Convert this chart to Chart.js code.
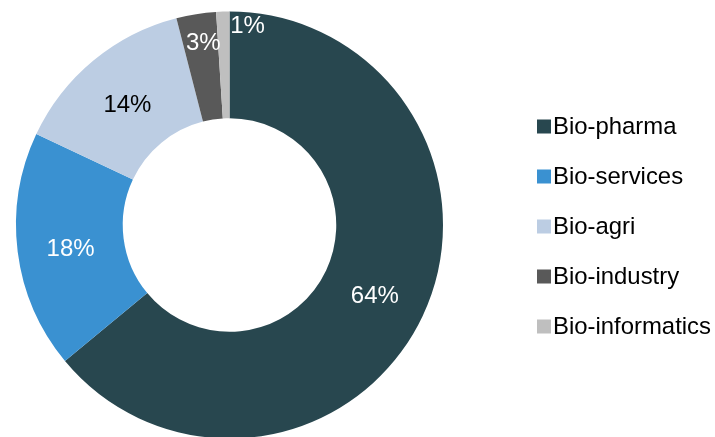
<!DOCTYPE html>
<html>
<head>
<meta charset="utf-8">
<script src="https://cdn.jsdelivr.net/npm/chart.js@4/dist/chart.umd.min.js"></script>
<style>
  html, body { margin: 0; padding: 0; background: #ffffff; overflow: hidden; }
  #wrap { position: absolute; left: 0; top: 0; width: 715px; height: 450px; }
</style>
</head>
<body>
<div id="wrap"><canvas id="c"></canvas></div>
<script>
const categories = ["Bio-pharma", "Bio-services", "Bio-agri", "Bio-industry", "Bio-informatics"];
const shares = [64, 18, 14, 3, 1];
const pctLabels = ["64%", "18%", "14%", "3%", "1%"];

const sliceColors = ["#28474F", "#3A91D1", "#BCCDE3", "#595959", "#BFBFBF"];
const labelColors = ["#FFFFFF", "#FFFFFF", "#000000", "#FFFFFF", "#FFFFFF"];
const labelShift = [[0.5, 1.5], [0, 2], [0, 1.5], [-1.2, -25], [23, -41]];
const FONT = '"Liberation Sans", Arial, sans-serif';

const sliceLabels = {
  id: 'sliceLabels',
  afterDatasetsDraw(chart) {
    const ctx = chart.ctx;
    const meta = chart.getDatasetMeta(0);
    ctx.save();
    ctx.font = '24px ' + FONT;
    ctx.textAlign = 'center';
    ctx.textBaseline = 'alphabetic';
    meta.data.forEach((arc, i) => {
      const p = arc.tooltipPosition();
      ctx.fillStyle = labelColors[i];
      ctx.fillText(pctLabels[i], p.x + labelShift[i][0], p.y + labelShift[i][1] + 8.6);
    });
    ctx.restore();
  }
};

const sideLegend = {
  id: 'sideLegend',
  afterDraw(chart) {
    const ctx = chart.ctx;
    ctx.save();
    ctx.font = '23.9px ' + FONT;
    ctx.textAlign = 'left';
    ctx.textBaseline = 'alphabetic';
    categories.forEach((name, i) => {
      const base = 133.5 + i * 50;
      ctx.fillStyle = sliceColors[i];
      ctx.fillRect(537, base - 14, 14, 14);
      ctx.fillStyle = '#000000';
      ctx.fillText(name, 553, base);
    });
    ctx.restore();
  }
};

new Chart(document.getElementById('c'), {
  type: 'doughnut',
  data: {
    labels: categories,
    datasets: [{
      data: shares,
      backgroundColor: sliceColors,
      borderWidth: 0,
      hoverOffset: 0
    }]
  },
  options: {
    responsive: true,
    maintainAspectRatio: false,
    animation: false,
    cutout: '50%',
    rotation: 0,
    layout: { padding: { left: 16, right: 272, top: 11.5, bottom: 11.5 } },
    plugins: {
      legend: { display: false },
      tooltip: { enabled: false }
    }
  },
  plugins: [sliceLabels, sideLegend]
});
</script>
</body>
</html>
